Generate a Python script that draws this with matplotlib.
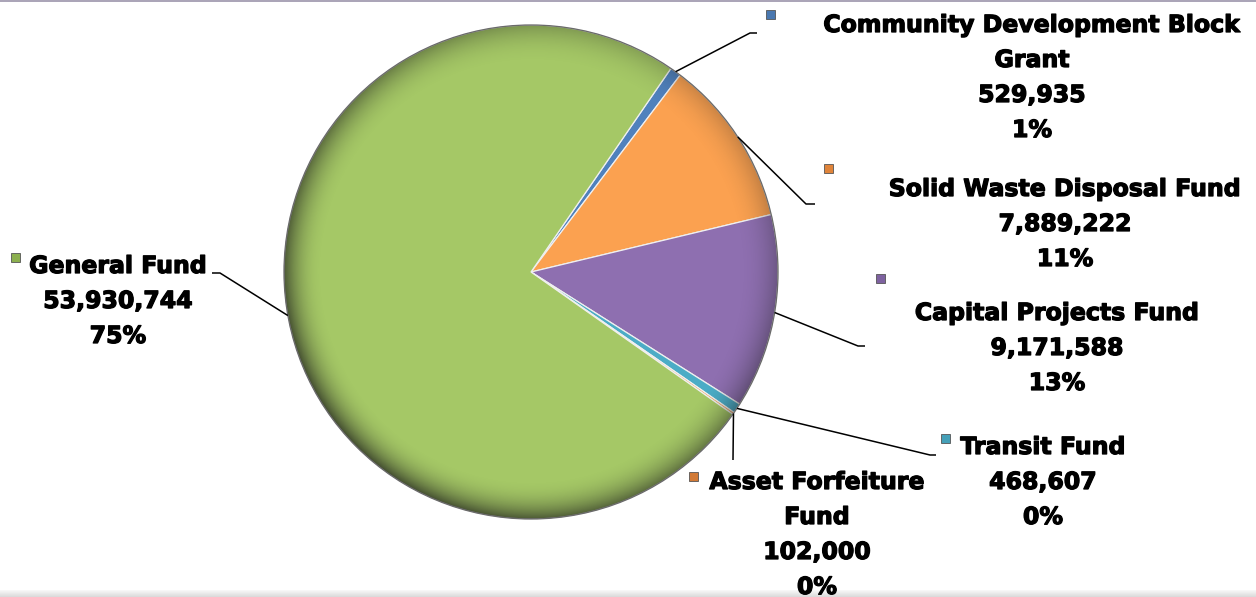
import numpy as np
import matplotlib
matplotlib.use("Agg")
import matplotlib.pyplot as plt
import matplotlib.patheffects as pe
from matplotlib.patches import Circle, Rectangle

# Fund budget shares
funds = ["Community Development Block\nGrant", "Solid Waste Disposal Fund",
         "Capital Projects Fund", "Transit Fund", "Asset Forfeiture\nFund",
         "General Fund"]
amounts = [529935, 7889222, 9171588, 468607, 102000, 53930744]
percent_labels = ["1%", "11%", "13%", "0%", "0%", "75%"]
slice_colors = ["#4F81BD", "#FBA150", "#8E6FB0", "#4BACC6", "#F39B4C", "#A5C866"]
marker_colors = ["#4A78B0", "#E0843A", "#7E62A0", "#45A0B8", "#D27A36", "#8CB04F"]

W, H = 1256, 597
fig = plt.figure(figsize=(W / 100, H / 100), dpi=100)
ax = fig.add_axes([0, 0, 1, 1])


def py(y):
    """Convert a top-down pixel row to the axes' bottom-up coordinate."""
    return H - y


cx, cy, R = 531, py(272), 247
start = 55.5
wedges, _ = ax.pie(amounts, colors=slice_colors, startangle=start,
                   counterclock=False, radius=R, center=(cx, cy),
                   wedgeprops=dict(linewidth=0.9, edgecolor="#f0f0f0"),
                   frame=True)
ax.set_xlim(0, W)
ax.set_ylim(0, H)
ax.set_aspect("equal")
ax.axis("off")

# Rim shading to give the pie a rounded look
n = 600
xs = np.linspace(cx - R, cx + R, n)
ys = np.linspace(cy - R, cy + R, n)
X, Y = np.meshgrid(xs, ys)
rr = np.hypot(X - cx, Y - cy) / R
ang = np.arctan2(Y - cy, X - cx)
alpha = np.clip((rr - 0.84) / 0.16, 0, 1) ** 2.2 * 0.7
alpha *= 0.65 + 0.35 * np.cos(ang + np.pi * 0.75)
shade = np.zeros((n, n, 4))
shade[..., :3] = 0.1
shade[..., 3] = alpha
img = ax.imshow(shade, extent=(cx - R, cx + R, cy - R, cy + R), origin="lower",
                zorder=3, interpolation="bilinear")
img.set_clip_path(Circle((cx, cy), R, transform=ax.transData))

ax.add_patch(Circle((cx, cy), R, fill=False, lw=0.9, ec="#6a6a6a", zorder=4))

# Label blocks: text centre x, first-line y, marker position, leader elbow
label_x = [1032, 1065, 1057, 1043, 817, 118]
label_y = [25, 189, 313, 447, 482, 266]
marker_pos = [(770, 14), (828, 168), (880, 278), (945, 438), (693, 476), (15, 257)]
elbows = [(750, 33, 757), (806, 204, 815), (858, 346, 865),
          (930, 455, 936), (733, 460, 733), (220, 273, 212)]

fs = 17
font = dict(family="DejaVu Sans", weight="bold", size=fs, color="black")
heavy = [pe.withStroke(linewidth=0.9, foreground="black")]
line_h = 35

total = sum(amounts)
theta = start
for i, amt in enumerate(amounts):
    sweep = 360 * amt / total
    mid = np.deg2rad(theta - sweep / 2)
    theta -= sweep
    x0 = cx + R * np.cos(mid)
    y0 = cy + R * np.sin(mid)
    ex, ey, hx = elbows[i]
    ax.plot([x0, ex, hx], [y0, py(ey), py(ey)], color="black", lw=1.1,
            zorder=5, solid_capstyle="butt")

    lines = funds[i].split("\n") + [f"{amt:,}", percent_labels[i]]
    for k, t in enumerate(lines):
        ax.text(label_x[i], py(label_y[i] + k * line_h), t, ha="center",
                va="center", zorder=8, path_effects=heavy, **font)

    mx, my = marker_pos[i]
    ax.add_patch(Rectangle((mx - 4.5, py(my) - 4.5), 9, 9,
                           facecolor=marker_colors[i], edgecolor="#555555",
                           lw=0.6, zorder=6))

# Frame strips along the top and bottom edges
ax.add_patch(Rectangle((0, py(2)), W, 2, color="#ABA5B8", zorder=7, lw=0))
for j in range(7):
    ax.add_patch(Rectangle((0, j), W, 1, color=str(0.86 + 0.018 * j),
                           zorder=7, lw=0))

fig.savefig("out.png", dpi=100)
